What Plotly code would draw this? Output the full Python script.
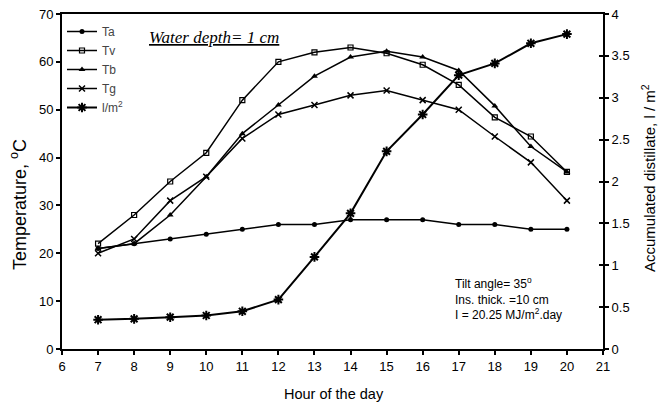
import plotly.graph_objects as go

hours = [7, 8, 9, 10, 11, 12, 13, 14, 15, 16, 17, 18, 19, 20]
Ta = [21, 22, 23, 24, 25, 26, 26, 27, 27, 27, 26, 26, 25, 25]
Tv = [22, 28, 35, 41, 52, 60, 62, 63, 61.8, 59.4, 55.2, 48.4, 44.4, 37]
Tb = [21, 22, 28, 36, 45, 51, 57, 61, 62.2, 61, 58.2, 50.8, 42.3, 37]
Tg = [20, 23, 31, 36, 44, 49, 51, 53, 54, 52, 50, 44.4, 39, 31]
distillate = [0.35, 0.36, 0.38, 0.40, 0.45, 0.59, 1.10, 1.62, 2.36, 2.80, 3.27, 3.41, 3.65, 3.76]

FONT = "Liberation Sans, Arial, sans-serif"
L, R, T, B = 62, 65, 14, 57
W, H = 668, 406
PW, PH = W - L - R, H - T - B

def px_x(px):
    return (px - L) / PW

def px_y(py):
    return 1 - (py - T) / PH

fig = go.Figure()
fig.add_trace(go.Scatter(x=hours, y=Ta, name="Ta", mode="lines+markers",
                         line=dict(color="black", width=1.5),
                         marker=dict(symbol="circle", size=5, color="black")))
fig.add_trace(go.Scatter(x=hours, y=Tv, name="Tv", mode="lines+markers",
                         line=dict(color="black", width=1.5),
                         marker=dict(symbol="square-open", size=5, color="black",
                                     line=dict(width=1.2, color="black"))))
fig.add_trace(go.Scatter(x=hours, y=Tb, name="Tb", mode="lines+markers",
                         line=dict(color="black", width=1.5),
                         marker=dict(symbol="triangle-up", size=6, color="black")))
fig.add_trace(go.Scatter(x=hours, y=Tg, name="Tg", mode="lines+markers",
                         line=dict(color="black", width=1.5),
                         marker=dict(symbol="x-thin-open", size=6, color="black",
                                     line=dict(width=1.5, color="black"))))
fig.add_trace(go.Scatter(x=hours, y=distillate, name="l/m<sup>2</sup>", mode="lines+markers",
                         yaxis="y2",
                         line=dict(color="black", width=2),
                         marker=dict(symbol="asterisk-open", size=8, color="black",
                                     line=dict(width=2, color="black"))))
fig.add_trace(go.Scatter(x=[None], y=[None], yaxis="y3", showlegend=False, hoverinfo="skip"))

fig.update_layout(
    width=W, height=H,
    margin=dict(l=L, r=R, t=T, b=B, autoexpand=False),
    paper_bgcolor="white", plot_bgcolor="white",
    font=dict(family=FONT, color="black", size=13),
    showlegend=True,
    legend=dict(x=px_x(62), y=px_y(17), xanchor="left", yanchor="top",
                bgcolor="rgba(0,0,0,0)", borderwidth=0,
                font=dict(size=12, color="#444"), tracegroupgap=0,
                itemwidth=30),
    xaxis=dict(range=[6, 21], dtick=1, tick0=6, showgrid=False, zeroline=False,
               showline=True, linecolor="black", linewidth=2, mirror=True,
               ticks="outside", ticklen=4, tickwidth=1.5, tickcolor="black",
               tickfont=dict(size=13), automargin=False),
    yaxis=dict(range=[0, 70], dtick=10, showgrid=False, zeroline=False,
               showline=True, linecolor="black", linewidth=2,
               ticks="outside", ticklen=4, tickwidth=1.5, tickcolor="black",
               tickfont=dict(size=13), automargin=False),
    yaxis2=dict(range=[0, 4], dtick=0.5, overlaying="y", side="right",
                showgrid=False, zeroline=False,
                showline=True, linecolor="black", linewidth=2,
                ticks="outside", ticklen=4, tickwidth=1.5, tickcolor="black",
                tickfont=dict(size=13), automargin=False),
    yaxis3=dict(range=[0, 4], dtick=0.5, overlaying="y", side="right",
                showgrid=False, zeroline=False, showline=False,
                ticks="inside", ticklen=4, tickwidth=1.5, tickcolor="black",
                showticklabels=False, automargin=False),
)

# axis titles
fig.add_annotation(xref="paper", yref="paper", x=px_x(334), y=px_y(394),
                   text="Hour of the day", showarrow=False,
                   font=dict(family=FONT, size=14.5, color="black"),
                   xanchor="center", yanchor="middle")
fig.add_annotation(xref="paper", yref="paper", x=px_x(18), y=px_y(205),
                   text="Temperature, <sup>o</sup>C", showarrow=False, textangle=-90,
                   font=dict(family=FONT, size=18, color="black"),
                   xanchor="center", yanchor="middle")
fig.add_annotation(xref="paper", yref="paper", x=px_x(649), y=px_y(178),
                   text="Accumulated distillate, l / m<sup>2</sup>", showarrow=False, textangle=-90,
                   font=dict(family=FONT, size=15, color="black"),
                   xanchor="center", yanchor="middle")

fig.add_annotation(xref="paper", yref="paper", x=px_x(214), y=px_y(38),
                   text="<i><u>Water depth= 1 cm</u></i>", showarrow=False,
                   font=dict(family="Liberation Serif, Times New Roman, serif", size=17, color="black"),
                   xanchor="center", yanchor="middle")
fig.add_annotation(xref="paper", yref="paper", x=px_x(453), y=px_y(298),
                   text="Tilt angle= 35<sup>o</sup><br>Ins. thick. =10 cm<br>I = 20.25 MJ/m<sup>2</sup>.day",
                   showarrow=False, align="left",
                   font=dict(family=FONT, size=12, color="black"),
                   xanchor="left", yanchor="middle")

fig.write_html("out.html",
               config={"displayModeBar": False},
               post_script="document.body.style.margin='0';document.body.style.overflow='hidden';")
